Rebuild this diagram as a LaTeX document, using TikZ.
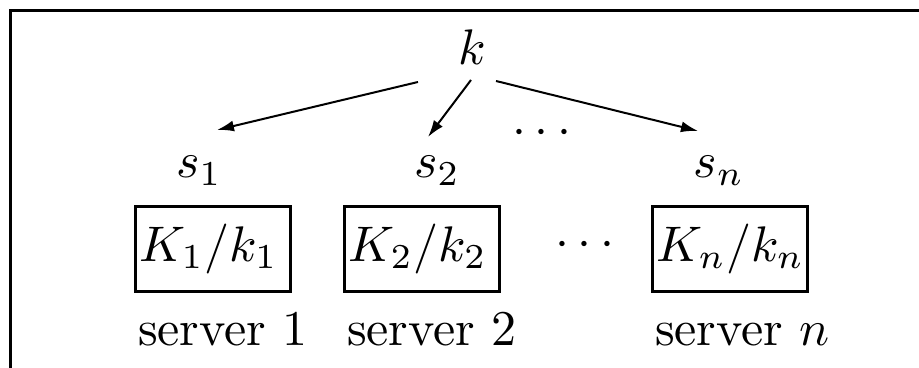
\documentclass[tikz,border=0pt]{standalone}
\usepackage{amsmath,amssymb}
\usetikzlibrary{arrows.meta, positioning}

\begin{document}
\begin{tikzpicture}[x=0.2pt, y=-0.2pt,
    srvbox/.style={rectangle, draw, line width=0.6pt, minimum height=17pt,
                   text width=29.4pt, inner xsep=0.8pt, align=left},
    arr/.style={-{Latex[length=3.4pt, width=2.2pt]}, line width=0.4pt},
    lbl/.style={anchor=base west, inner xsep=0pt},
    sym/.style={anchor=base}
  ]
  \useasboundingbox (0,0) rectangle (919,368);
  % frame
  \draw[line width=0.6pt] (10.5,368) |- (919,10.5);

  \node (k) at (472,47.5) {$k$};
  \node[sym] (s1) at (199,178) {$s_1$};
  \node[sym] (s2) at (437,178) {$s_2$};
  \node[sym] (sn) at (719,178) {$s_n$};
  \node[sym] (topdots) at (546,145) {$\cdots$};

  \node[srvbox] (box1) at (213,249) {$K_1/k_1$};
  \node[srvbox, right=10.2pt of box1] (box2) {$K_2/k_2$};
  \node[srvbox, right=30pt of box2] (boxn) {$K_n/k_n$};
  \node[sym] (botdots) at (589,257) {$\cdots$};

  \node[lbl] (srv1) at ([shift={(3,53)}]box1.south west) {server 1};
  \node[lbl] (srv2) at ([shift={(3,53)}]box2.south west) {server 2};
  \node[lbl] (srvn) at ([shift={(3,53)}]boxn.south west) {server $n$};

  \draw[arr] ([shift={(-54,34.5)}]k.center) -- ([shift={(18,-48)}]s1.base);
  \draw[arr] ([shift={(-1,32.5)}]k.center) -- ([shift={(-9,-41)}]s2.base);
  \draw[arr] ([shift={(24,33.5)}]k.center) -- ([shift={(-21,-47)}]sn.base);
\end{tikzpicture}
\end{document}
